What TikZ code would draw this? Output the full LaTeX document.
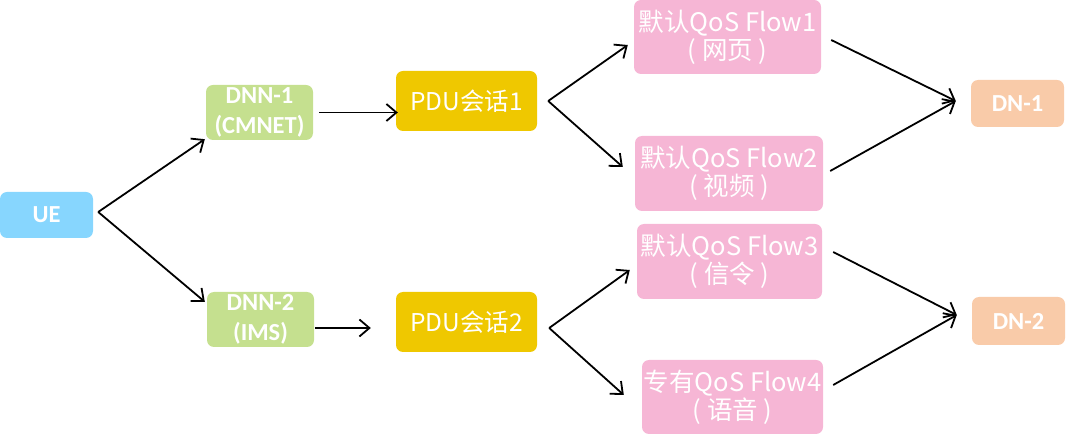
\documentclass[tikz,border=0pt]{standalone}
\usepackage{fontspec}
\setmainfont{Carlito}
\newfontfamily\cjk{Noto Sans CJK SC}
\usetikzlibrary{arrows.meta}
\definecolor{ueblue}{HTML}{87D6FE}
\definecolor{dnngreen}{HTML}{C5E08F}
\definecolor{pduyellow}{HTML}{EFC800}
\definecolor{flowpink}{HTML}{F6B6D5}
\definecolor{dnorange}{HTML}{F9CBA9}
\tikzset{
  box/.style={rounded corners=7pt, inner sep=0pt, text=white, align=center},
  latinbox/.style={box, font=\bfseries\fontsize{24.5}{30}\selectfont},
  cjkbox/.style={box, font=\cjk\fontsize{25.5}{28}\selectfont},
  pdubox/.style={box, font=\cjk\fontsize{24.5}{30}\selectfont},
  arr/.style={-{Straight Barb[length=10pt,width=17pt]}, line width=1.8pt, black},
}
\begin{document}
\begin{tikzpicture}[x=1pt,y=-1pt]
\useasboundingbox (0,0) rectangle (1080,438);
\node[latinbox, fill=ueblue, minimum width=93pt, minimum height=46pt] (UE) at (46.5,215) {UE};
\node[latinbox, fill=dnngreen, minimum width=107pt, minimum height=55pt] (DNN1) at (259.5,112.5) {DNN-1\\(CMNET)};
\node[latinbox, fill=dnngreen, minimum width=107pt, minimum height=55pt] (DNN2) at (260.5,319.5) {DNN-2\\(IMS)};
\node[pdubox, fill=pduyellow, minimum width=141pt, minimum height=60pt] (PDU1) at (466.5,101) {PDU会话1};
\node[pdubox, fill=pduyellow, minimum width=141pt, minimum height=60pt] (PDU2) at (466.5,322) {PDU会话2};
\node[cjkbox, fill=flowpink, minimum width=187pt, minimum height=74pt] (F1) at (727.5,37) {默认QoS Flow1\\( 网页 )};
\node[cjkbox, fill=flowpink, minimum width=188pt, minimum height=75pt] (F2) at (729,173.5) {默认QoS Flow2\\( 视频 )};
\node[cjkbox, fill=flowpink, minimum width=185pt, minimum height=75pt] (F3) at (729.5,261.5) {默认QoS Flow3\\( 信令 )};
\node[cjkbox, fill=flowpink, minimum width=181pt, minimum height=74pt] (F4) at (732.5,397) {专有QoS Flow4\\( 语音 )};
\node[latinbox, fill=dnorange, minimum width=93pt, minimum height=47pt] (DN1) at (1017.5,103.5) {DN-1};
\node[latinbox, fill=dnorange, minimum width=93pt, minimum height=48pt] (DN2) at (1018.5,321) {DN-2};
\draw[arr] ([shift={(5,-3)}]UE.east) -- ([shift={(-1,-1)}]DNN1.south west);
\draw[arr] ([shift={(5,-3)}]UE.east) -- ([shift={(-2,10)}]DNN2.north west);
\draw[arr] ([xshift=6pt]DNN1.east) -- ([xshift=2pt]DNN1.east -| PDU1.west);
\draw[arr] ([shift={(1,8.5)}]DNN2.east) -- ([shift={(-25,6)}]PDU2.west);
\draw[arr] ([shift={(11,0)}]PDU1.east) -- ([shift={(-6,8)}]F1.west);
\draw[arr] ([shift={(11,0)}]PDU1.east) -- ([shift={(-12,-6.5)}]F2.west);
\draw[arr] ([shift={(12,6)}]PDU2.east) -- ([shift={(-7,8.5)}]F3.west);
\draw[arr] ([shift={(12,6)}]PDU2.east) -- ([shift={(-18,-2)}]F4.west);
\draw[arr] ([shift={(10,3)}]F1.east) -- ([shift={(-15,-2.5)}]DN1.west);
\draw[arr] ([shift={(7,-2.5)}]F2.east) -- ([shift={(-15,-2.5)}]DN1.west);
\draw[arr] ([shift={(11,-9.5)}]F3.east) -- ([shift={(-15,-6)}]DN2.west);
\draw[arr] ([shift={(10,-12)}]F4.east) -- ([shift={(-15,-6)}]DN2.west);
\end{tikzpicture}
\end{document}
